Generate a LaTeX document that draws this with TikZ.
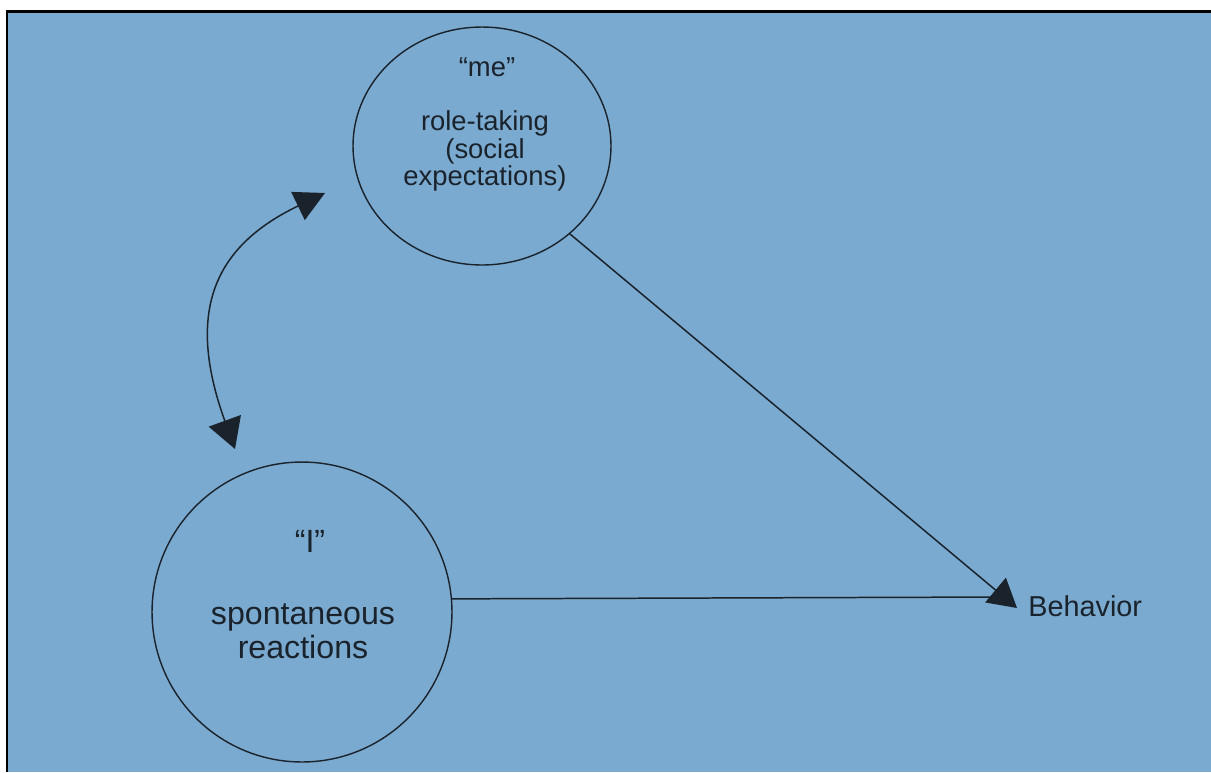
\documentclass[tikz,border=0pt]{standalone}
\usepackage{fontspec}
\setmainfont{Liberation Sans}
\usetikzlibrary{arrows.meta,shapes.geometric}
\definecolor{paper}{RGB}{122,170,207}
\definecolor{ink}{RGB}{26,34,44}
\begin{document}
\begin{tikzpicture}[x=0.02cm,y=-0.02cm,
  selfshape/.style={draw=ink, line width=0.8pt, inner sep=0pt},
  toplabel/.style={text=ink, anchor=base, inner sep=0pt, align=center,
    font=\fontsize{15.6}{13.8}\selectfont},
  botlabel/.style={text=ink, anchor=base, inner sep=0pt, align=center,
    font=\fontsize{18.3}{19.3}\selectfont},
  link/.style={draw=ink, line width=0.85pt}]

% page and frame
\useasboundingbox (0,0) rectangle (1211,772);
\fill[white] (0,0) rectangle (1211,772);
\fill[paper] (8,11) rectangle (1211,772);
\draw[black, line width=1.7pt] (7,772) -- (7,11.5) -- (1211,11.5);

% the two phases of the self
\node[selfshape, ellipse, minimum width=5.16cm, minimum height=4.76cm] (me) at (482,146) {};
\node[selfshape, circle, minimum size=6cm] (I) at (302,612) {};

% multi-line labels sit on the baseline of their last line
\node[toplabel] (meq) at (487,76) {“me”};
\node[toplabel] (metext) at (485,185.5) {role-taking\\(social\\expectations)};

\node[botlabel] (Iq) at (310,552) {“I”};
\node[botlabel] (Itext) at (303,658) {spontaneous\\reactions};

\node[text=ink, anchor=base west, inner sep=0pt, font=\fontsize{16.4}{18}\selectfont] (beh) at (1028,616) {Behavior};

% connectors
\coordinate (ta) at (325,193);
\coordinate (tb) at (235,449);
\coordinate (tip) at (1017,608);
\coordinate (join) at (1000,597);

\draw[link, {Triangle[length=0.6cm,width=0.62cm]}-{Triangle[length=0.6cm,width=0.68cm]}]
  (ta) .. controls (217,245) and (184,308) .. (tb);
\draw[link, -{Triangle[length=0.56cm,width=0.64cm]}] (me.-45) -- (tip);
\draw[link] (I.5) -- (join);
\end{tikzpicture}
\end{document}
